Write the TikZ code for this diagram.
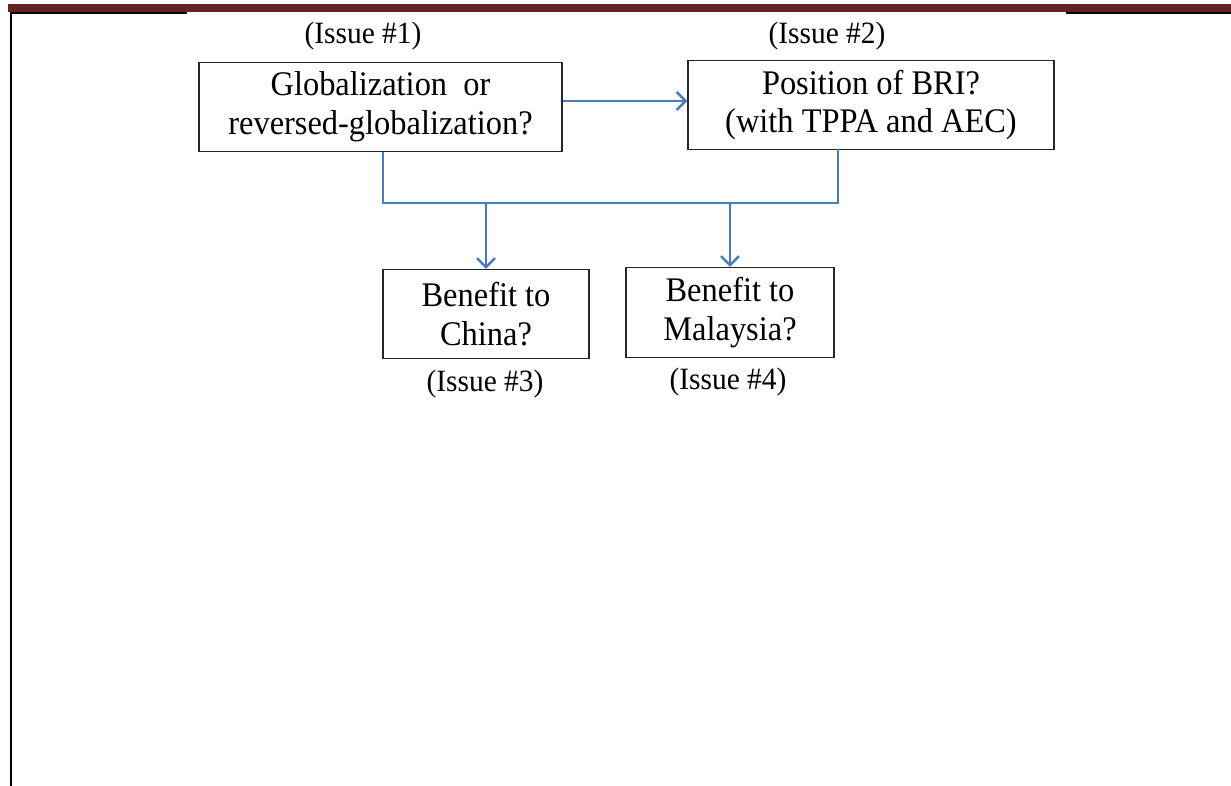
\documentclass[tikz,border=0pt]{standalone}
\usepackage{fontspec}
\setmainfont{Liberation Serif}
\newfontfamily\boxfont[FakeStretch=0.94]{Liberation Serif}
\newfontfamily\labelfont[FakeStretch=0.95]{Liberation Serif}
\usetikzlibrary{arrows.meta}
\definecolor{pagered}{HTML}{632423}
\definecolor{linkblue}{HTML}{4A7EBB}
\tikzset{>={Straight Barb[length=9pt,width=18pt,line width=2.5pt]}}
\tikzset{
  issuebox/.style={draw=black!85, line width=1.4pt, align=center, inner sep=0pt,
    font=\boxfont\fontsize{34.5}{38.5}\selectfont},
  issuelabel/.style={font=\labelfont\fontsize{31}{33}\selectfont, inner sep=0pt},
  link/.style={draw=linkblue, line width=2.6pt},
}

\begin{document}
\begin{tikzpicture}[x=1pt,y=-1pt]
\useasboundingbox (0,0) rectangle (1231,786);

% page rule at the top and margin line
\fill[pagered] (8,4) rectangle (1231,12);
\fill[black] (10,12) rectangle (187,14);
\fill[black] (1066,12) rectangle (1231,14);
\fill[black] (10,12) rectangle (12,786);

\node[issuebox, minimum width=363pt, minimum height=89pt] (glob) at (380.5,107) {Globalization \ or\\reversed-globalization?};
\node[issuebox, minimum width=366pt, minimum height=89pt] (bri) at (871,105) {Position of BRI?\\(with TPPA and AEC)};
\node[issuebox, minimum width=206pt, minimum height=89pt] (china) at (486,314) {Benefit to\\China?};
\node[issuebox, minimum width=208pt, minimum height=90pt] (malay) at (730,312.5) {Benefit to\\Malaysia?};

\node[issuelabel] (iss1) at (363,36) {(Issue \#1)};
\node[issuelabel] (iss2) at (827,36) {(Issue \#2)};
\node[issuelabel] (iss3) at (485,384) {(Issue \#3)};
\node[issuelabel] (iss4) at (728,382) {(Issue \#4)};

\coordinate (busL) at (383,203);
\coordinate (busR) at (838,203);
\coordinate (briout) at (838,149.5);

\draw[link, ->] (glob.east |- 0,101) -- (bri.west |- 0,101);
\draw[link] (busL |- glob.south) -- (busL) -- (busR) -- (briout);
\draw[link, ->] (china.north |- busL) -- (china.north);
\draw[link, ->] (malay.north |- busL) -- (malay.north);

\end{tikzpicture}
\end{document}
